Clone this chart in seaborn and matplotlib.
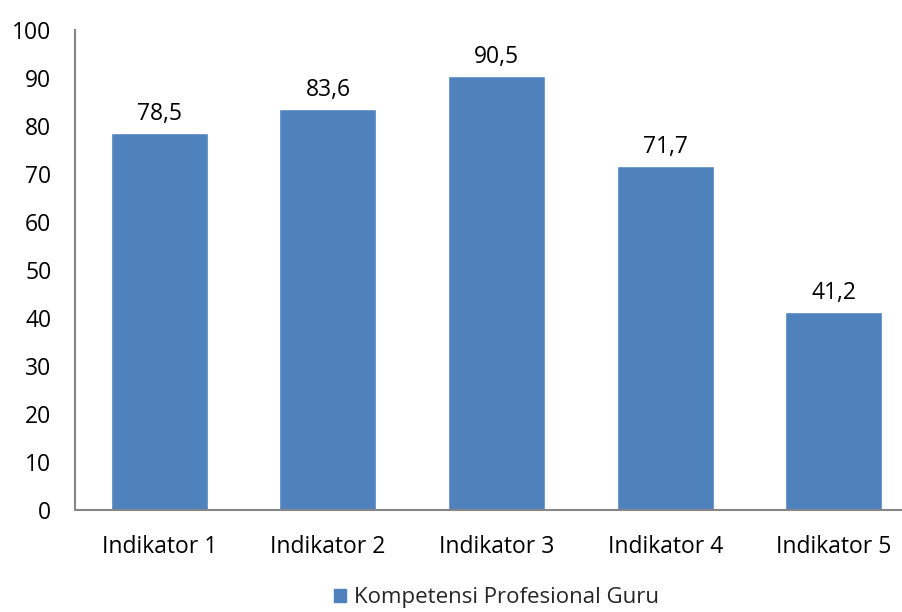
import pandas as pd
import matplotlib
matplotlib.use("Agg")
import matplotlib.pyplot as plt
import seaborn as sns
from matplotlib.patches import Patch

# data
categories = ["Indikator 1", "Indikator 2", "Indikator 3", "Indikator 4", "Indikator 5"]
values = [78.5, 83.6, 90.5, 71.7, 41.2]
series_name = "Kompetensi Profesional Guru"
yticks = [0, 10, 20, 30, 40, 50, 60, 70, 80, 90, 100]

df = pd.DataFrame({"indikator": categories, "nilai": values})

sns.set_style("white")
plt.rcParams["font.family"] = ["Open Sans", "DejaVu Sans"]

bar_color = "#4F81BD"
axis_color = "#868686"
fs = 16.5

fig = plt.figure(figsize=(9.03, 6.12), dpi=100)
ax = fig.add_axes([75 / 903, 102 / 612, 1 - 75 / 903, 480 / 612])

sns.barplot(data=df, x="indikator", y="nilai", color=bar_color, width=0.575,
            saturation=1, ax=ax)

# data labels with comma decimals
for i, v in enumerate(values):
    ax.annotate(f"{v:.1f}".replace(".", ","), (i, v), xytext=(0, 5),
                textcoords="offset points", ha="center", va="bottom",
                fontsize=fs, color="black")

ax.set_ylim(0, 100)
ax.set_xlim(-0.5, 4.41)
ax.set_yticks(yticks)
ax.set_yticklabels([str(t) for t in yticks])
ax.set_xlabel("")
ax.set_ylabel("")
ax.tick_params(axis="both", labelsize=fs, length=0, colors="black")
ax.tick_params(axis="x", pad=18)
ax.tick_params(axis="y", pad=17)

for side in ["top", "right"]:
    ax.spines[side].set_visible(False)
for side in ["left", "bottom"]:
    ax.spines[side].set_color(axis_color)
    ax.spines[side].set_linewidth(1.5)

handle = Patch(facecolor=bar_color, edgecolor=bar_color)
fig.legend([handle], [series_name], loc="center", bbox_to_anchor=(497 / 903, 14 / 612),
           frameon=False, fontsize=16, handlelength=0.5, handleheight=0.5,
           handletextpad=0.4, borderpad=0)

fig.savefig("out.png", dpi=100)
